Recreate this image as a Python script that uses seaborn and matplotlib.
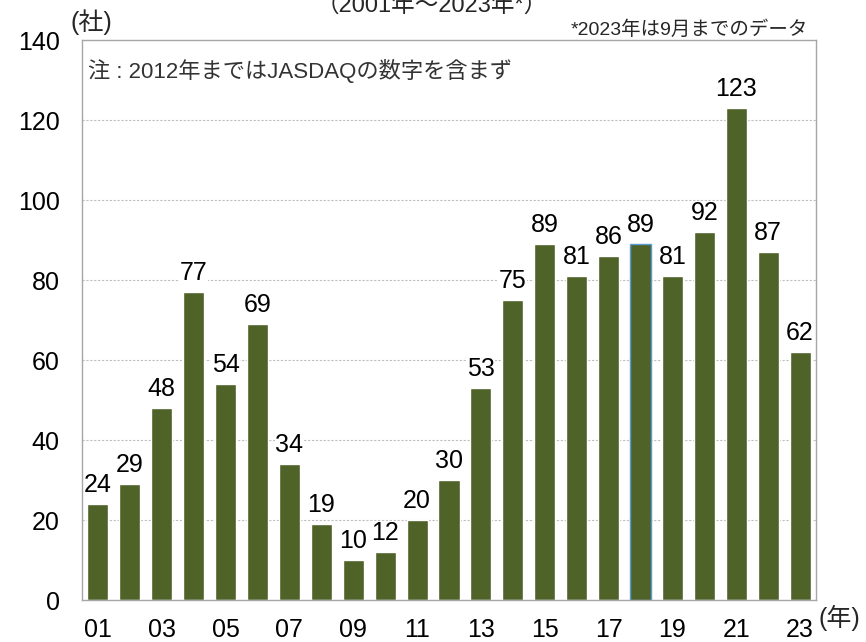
import matplotlib
matplotlib.use("Agg")
import matplotlib.pyplot as plt
import seaborn as sns
import pandas as pd

years = ["01", "02", "03", "04", "05", "06", "07", "08", "09", "10", "11", "12",
         "13", "14", "15", "16", "17", "18", "19", "20", "21", "22", "23"]
counts = [24, 29, 48, 77, 54, 69, 34, 19, 10, 12, 20, 30,
          53, 75, 89, 81, 86, 89, 81, 92, 123, 87, 62]
y_ticks = [0, 20, 40, 60, 80, 100, 120, 140]

sns.set_theme(style="white")
plt.rcParams['font.family'] = ['Liberation Sans', 'Noto Sans CJK JP', 'DejaVu Sans']

df = pd.DataFrame({"year": years, "count": counts})

fig = plt.figure(figsize=(8.66, 6.42), dpi=100)
ax = fig.add_axes([82/866, 1-600/642, 734/866, 560/642])

sns.barplot(data=df, x="year", y="count", color="#4F6228", saturation=1,
            width=0.66, ax=ax, zorder=2)

for i, p in enumerate(ax.patches):
    if years[i] == "18":
        p.set_edgecolor("#5B9BD5")
        p.set_linewidth(1.0)
    v = counts[i]
    ax.annotate(str(v), (p.get_x() + p.get_width()/2, p.get_height()),
                xytext=(0, 5), textcoords="offset points",
                ha="center", va="bottom", fontsize=18, color="black", zorder=3,
                bbox=dict(boxstyle="square,pad=0.02", fc="white", ec="none"))

ax.set_ylim(0, 140)
ax.set_xlim(-0.5, len(years) - 0.5)
ax.set_yticks(y_ticks)
ax.set_yticklabels([str(t) for t in y_ticks], fontsize=18)
ax.set_xticks(range(len(years)))
ax.set_xticklabels([y if i % 2 == 0 else "" for i, y in enumerate(years)], fontsize=18)
ax.tick_params(axis="x", length=0, pad=13, colors="black")
ax.tick_params(axis="y", length=0, pad=16, colors="black")

for t in y_ticks[1:-1]:
    ax.axhline(t, color="#BFBFBF", lw=0.8, ls=(0, (2, 1.5)), zorder=1)

for s in ax.spines.values():
    s.set_color("#A6A6A6")
    s.set_linewidth(1.0)

ax.set_xlabel("")
ax.set_ylabel("")

ax.text(0.008, 0.945, "注 : 2012年まではJASDAQの数字を含まず", transform=ax.transAxes,
        fontsize=16, color="#333333", ha="left", va="center")

fig.text(70/866, 1-22/642, "(社)", fontsize=18, ha="left", va="center")
fig.text(808/866, 1-30/642, "*2023年は9月までのデータ", fontsize=14, ha="right", va="center")
fig.text(819/866, 1-618/642, "(年)", fontsize=18, ha="left", va="center")
fig.text(432/866, 1-12/642, "（2001年～2023年*）", fontsize=17, ha="center", va="baseline")

fig.savefig("out.png", dpi=100)
